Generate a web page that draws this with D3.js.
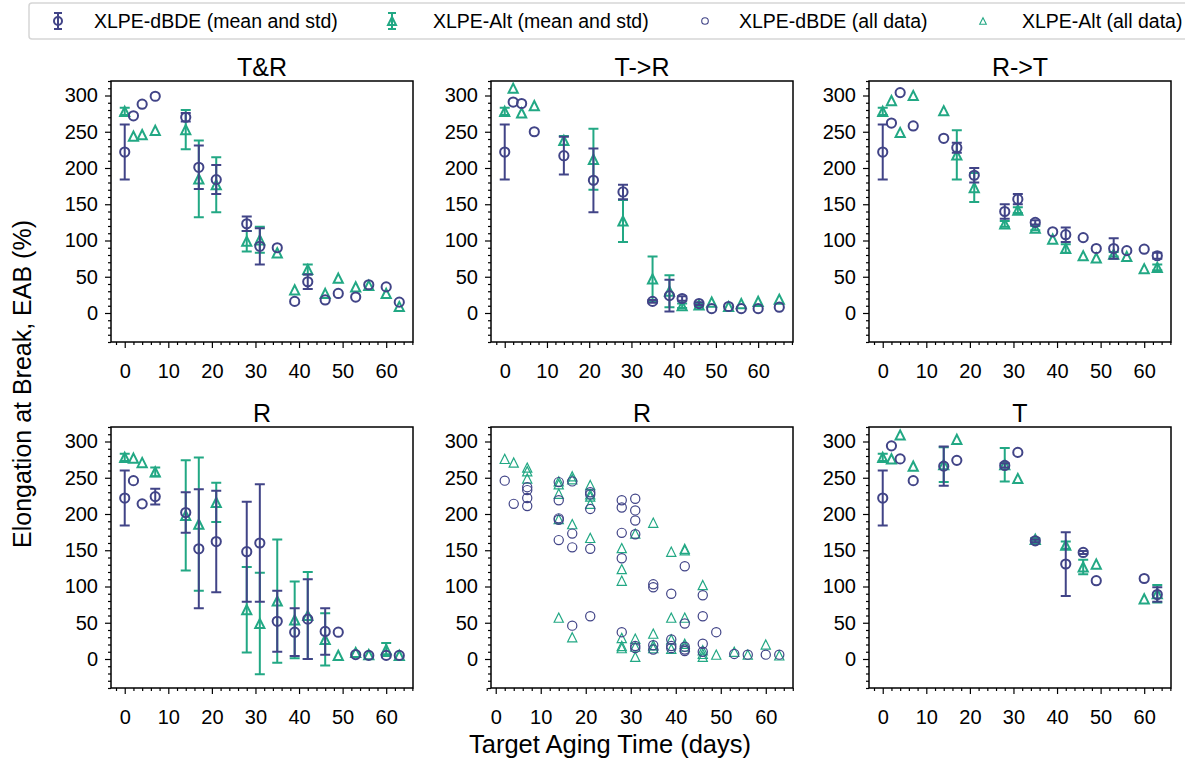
<!DOCTYPE html>
<html>
<head>
<meta charset="utf-8">
<script src="https://cdn.jsdelivr.net/npm/d3@7"></script>
<style>
body { margin: 0; background: #fff; }
svg { font-family: "Liberation Sans", Arial, sans-serif; }
</style>
</head>
<body>
<div id="chart"></div>
<script>
// ---- data ----
var panelTitles = ["T&R", "T->R", "R->T", "R", "R", "T"];
var xTicks = [0, 10, 20, 30, 40, 50, 60];
var yTicks = [0, 50, 100, 150, 200, 250, 300];

// T&R
var trDays = [0, 2, 4, 7, 14, 17, 21, 28, 31, 35, 39, 42, 46, 49, 53, 56, 60, 63];
var trDbde = [222, 272, 288, 299, 270, 201, 184, 123, 92, 90, 16, 43, 18, 27, 22, 39, 36, 15];
var trDbdeStd = [38, null, null, null, 6, 30, 20, 10, 25, null, null, 10, null, null, null, null, null, null];
var trAlt = [278, 244, 246, 252, 253, 185, 177, 99, 101, 83, 32, 60, 27, 48, 36, 38, 27, 9];
var trAltStd = [5, null, null, null, 27, 53, 38, 14, 18, null, null, 7, null, null, null, null, null, null];

// T->R
var t2rDays = [0, 2, 4, 7, 14, 21, 28, 35, 39, 42, 46, 49, 53, 56, 60, 65];
var t2rDbde = [222, 291, 289, 250, 217, 183, 167, 16, 24, 20, 13, 6, 9, 6, 6, 8];
var t2rDbdeStd = [38, null, null, null, 26, 44, 10, 2, 22, 3, 2, null, null, null, null, null];
var t2rAlt = [278, 310, 276, 286, 238, 212, 127, 47, 30, 10, 11, 15, 9, 13, 16, 19];
var t2rAltStd = [5, null, null, null, 6, 42, 29, 31, 22, 3, 2, null, null, null, null, null];

// R->T
var r2tDays = [0, 2, 4, 7, 14, 17, 21, 28, 31, 35, 39, 42, 46, 49, 53, 56, 60, 63];
var r2tDbde = [222, 262, 304, 258, 241, 228, 190, 140, 157, 125, 112, 108, 104, 89, 89, 86, 88, 79];
var r2tDbdeStd = [38, null, null, null, null, 7, 10, 10, 7, 3, null, 10, null, null, 14, null, null, 4];
var r2tAlt = [278, 293, 249, 300, 279, 218, 173, 123, 142, 117, 102, 89, 79, 76, 81, 78, 61, 63];
var r2tAltStd = [5, null, null, null, null, 34, 20, 4, 4, 3, null, 6, null, null, 3, null, null, 4];

// R (mean and std)
var rDays = [0, 2, 4, 7, 14, 17, 21, 28, 31, 35, 39, 42, 46, 49, 53, 56, 60, 63];
var rDbde = [222, 246, 214, 224, 202, 152, 162, 148, 160, 52, 37, 55, 38, 37, 6, 5, 5, 5];
var rDbdeStd = [38, null, null, 11, 28, 82, 70, 69, 81, 42, 33, 55, 32, null, null, null, null, null];
var rAlt = [278, 277, 271, 258, 198, 186, 216, 68, 49, 80, 54, 60, 27, 5, 9, 6, 13, 5];
var rAltStd = [5, null, null, 6, 76, 92, 27, 59, 70, 85, 53, 60, 36, null, null, null, 9, null];

// R (all data)
var rAllDbdeDays = [2, 4, 7, 7, 7, 7, 14, 14, 14, 14, 14, 17, 17, 17, 17, 21, 21, 21, 21, 21, 28, 28, 28, 28, 28,
  31, 31, 31, 31, 31, 31, 35, 35, 35, 35, 39, 39, 39, 39, 42, 42, 42, 42, 42, 46, 46, 46, 46, 49, 53, 56, 60, 63];
var rAllDbdeVals = [246, 214, 237, 233, 222, 211, 244, 219, 194, 192, 164, 245, 173, 154, 46, 230, 227, 207, 152, 59,
  219, 209, 174, 139, 37, 221, 205, 191, 172, 18, 15, 103, 99, 19, 13, 90, 27, 18, 15, 128, 49, 17, 13, 11,
  88, 59, 21, 10, 37, 7, 6, 6, 6];
var rAllAltDays = [2, 4, 7, 7, 7, 14, 14, 14, 14, 14, 17, 17, 17, 17, 21, 21, 21, 21, 21, 28, 28, 28, 28, 28, 28,
  31, 31, 31, 31, 35, 35, 35, 35, 39, 39, 39, 39, 42, 42, 42, 42, 42, 46, 46, 46, 46, 49, 53, 56, 60, 63];
var rAllAltVals = [276, 271, 264, 259, 249, 245, 241, 228, 193, 57, 252, 248, 186, 30, 240, 227, 224, 214, 167,
  153, 124, 108, 29, 18, 15, 173, 28, 17, 3, 188, 35, 19, 15, 148, 57, 27, 14, 152, 150, 57, 21, 17,
  102, 12, 7, 3, 6, 10, 6, 20, 5];

// T
var tDays = [0, 2, 4, 7, 14, 17, 28, 31, 35, 42, 46, 49, 60, 63];
var tDbde = [222, 294, 276, 246, 266, 274, 267, 285, 163, 131, 147, 108, 111, 89];
var tDbdeStd = [38, null, null, null, 27, null, 3, null, 2, 44, 2, null, null, 10];
var tAlt = [278, 276, 309, 266, 268, 303, 268, 249, 165, 157, 127, 131, 83, 90];
var tAltStd = [5, null, null, null, 24, null, 23, null, 2, 5, 10, null, null, 12];

var legendLabels = ["XLPE-dBDE (mean and std)", "XLPE-Alt (mean and std)", "XLPE-dBDE (all data)", "XLPE-Alt (all data)"];

// ---- layout ----
var width = 1185, height = 759;
var dbdeColor = "#414487", altColor = "#22a884";
var cols = [111, 491, 869], rows = [81, 427];
var pw = 302, ph = 261;

var svg = d3.select("#chart")
  .append("svg")
    .attr("width", width)
    .attr("height", height);

function zip(days, vals, stds) {
  return days.map(function(d, i) { return {x: d, y: vals[i], s: stds ? stds[i] : null}; });
}

var panels = [
  {col: 0, row: 0, xdom: [-3.15, 66.15], dbde: zip(trDays, trDbde, trDbdeStd), alt: zip(trDays, trAlt, trAltStd)},
  {col: 1, row: 0, xdom: [-3.25, 68.25], dbde: zip(t2rDays, t2rDbde, t2rDbdeStd), alt: zip(t2rDays, t2rAlt, t2rAltStd)},
  {col: 2, row: 0, xdom: [-3.15, 66.15], dbde: zip(r2tDays, r2tDbde, r2tDbdeStd), alt: zip(r2tDays, r2tAlt, r2tAltStd)},
  {col: 0, row: 1, xdom: [-3.15, 66.15], dbde: zip(rDays, rDbde, rDbdeStd), alt: zip(rDays, rAlt, rAltStd)},
  {col: 1, row: 1, xdom: [-1.05, 66.05], all: true, dbde: zip(rAllDbdeDays, rAllDbdeVals), alt: zip(rAllAltDays, rAllAltVals)},
  {col: 2, row: 1, xdom: [-3.15, 66.15], dbde: zip(tDays, tDbde, tDbdeStd), alt: zip(tDays, tAlt, tAltStd)}
];

function triPath(s) {
  return "M0," + (-s) + "L" + s + "," + s + "L" + (-s) + "," + s + "Z";
}

panels.forEach(function(p, i) {
  var g = svg.append("g")
    .attr("transform", "translate(" + cols[p.col] + "," + rows[p.row] + ")");

  var x = d3.scaleLinear().domain(p.xdom).range([0, pw]);
  var y = d3.scaleLinear().domain([-40, 320]).range([ph, 0]);

  // minor ticks
  var xMinor = d3.range(-2, p.xdom[1], 2).filter(function(v) { return v % 10 != 0; });
  var yMinor = d3.range(-40, 321, 10).filter(function(v) { return v % 50 != 0; });

  g.append("g")
    .attr("class", "axis")
    .attr("transform", "translate(0," + ph + ")")
    .call(d3.axisBottom(x).tickValues(xMinor).tickSize(3).tickFormat(""));
  g.append("g")
    .attr("class", "axis")
    .attr("transform", "translate(0," + ph + ")")
    .call(d3.axisBottom(x).tickValues(xTicks).tickSize(6).tickPadding(16))
    .selectAll("text")
      .style("font-size", "20px");
  g.append("g")
    .attr("class", "axis")
    .call(d3.axisLeft(y).tickValues(yMinor).tickSize(3).tickFormat(""));
  g.append("g")
    .attr("class", "axis")
    .call(d3.axisLeft(y).tickValues(yTicks).tickSize(6).tickPadding(7))
    .selectAll("text")
      .style("font-size", "20px");

  g.selectAll(".axis .domain").remove();
  g.selectAll(".axis line").attr("stroke", "#000").attr("stroke-width", 1.2);
  g.selectAll(".axis text").attr("fill", "#000").attr("font-family", "Liberation Sans, Arial, sans-serif");

  g.append("rect")
    .attr("width", pw)
    .attr("height", ph)
    .attr("fill", "none")
    .attr("stroke", "#000")
    .attr("stroke-width", 1.5);

  g.append("text")
    .attr("x", pw / 2)
    .attr("y", -5)
    .attr("text-anchor", "middle")
    .style("font-size", "25px")
    .text(panelTitles[i]);

  var lw = p.all ? 1.2 : 2;

  [{data: p.alt, color: altColor, tri: true}, {data: p.dbde, color: dbdeColor, tri: false}].forEach(function(s) {
    var withStd = s.data.filter(function(d) { return d.s != null; });
    // error bars
    g.selectAll(null)
      .data(withStd)
      .enter()
      .append("path")
        .attr("d", function(d) {
          var cx = x(d.x), y0 = y(d.y - d.s), y1 = y(d.y + d.s);
          return "M" + cx + "," + y0 + "V" + y1 +
            "M" + (cx - 5) + "," + y0 + "H" + (cx + 5) +
            "M" + (cx - 5) + "," + y1 + "H" + (cx + 5);
        })
        .attr("fill", "none")
        .attr("stroke", s.color)
        .attr("stroke-width", 2);
    // markers
    if (s.tri) {
      g.selectAll(null)
        .data(s.data)
        .enter()
        .append("path")
          .attr("d", triPath(4.6))
          .attr("transform", function(d) { return "translate(" + x(d.x) + "," + y(d.y) + ")"; })
          .attr("fill", "none")
          .attr("stroke", s.color)
          .attr("stroke-width", lw);
    } else {
      g.selectAll(null)
        .data(s.data)
        .enter()
        .append("circle")
          .attr("cx", function(d) { return x(d.x); })
          .attr("cy", function(d) { return y(d.y); })
          .attr("r", 4.6)
          .attr("fill", "none")
          .attr("stroke", s.color)
          .attr("stroke-width", lw);
    }
  });
});

// axis labels
svg.append("text")
  .attr("x", 610)
  .attr("y", 753)
  .attr("text-anchor", "middle")
  .style("font-size", "25.5px")
  .text("Target Aging Time (days)");

svg.append("text")
  .attr("transform", "translate(31,384)rotate(-90)")
  .attr("text-anchor", "middle")
  .style("font-size", "25px")
  .text("Elongation at Break, EAB (%)");

// legend
var legend = svg.append("g");
legend.append("rect")
  .attr("x", 29).attr("y", 3)
  .attr("width", 1200).attr("height", 36)
  .attr("rx", 3)
  .attr("fill", "#fff")
  .attr("stroke", "#d6d6d6")
  .attr("stroke-width", 1.5);

var legendItems = [
  {mx: 58, tx: 94, color: dbdeColor, tri: false, err: true},
  {mx: 392, tx: 433, color: altColor, tri: true, err: true},
  {mx: 705, tx: 739, color: dbdeColor, tri: false, err: false},
  {mx: 983, tx: 1022, color: altColor, tri: true, err: false}
];

legendItems.forEach(function(it, i) {
  var cy = 21;
  if (it.err) {
    legend.append("path")
      .attr("d", "M" + it.mx + "," + (cy - 8) + "V" + (cy + 8) +
        "M" + (it.mx - 4) + "," + (cy - 8) + "H" + (it.mx + 4) +
        "M" + (it.mx - 4) + "," + (cy + 8) + "H" + (it.mx + 4))
      .attr("stroke", it.color)
      .attr("stroke-width", 2)
      .attr("fill", "none");
  }
  var r = it.err ? 4 : 3.3;
  var w = it.err ? 2 : 1.1;
  if (it.tri) {
    legend.append("path")
      .attr("d", triPath(r))
      .attr("transform", "translate(" + it.mx + "," + cy + ")")
      .attr("fill", "none")
      .attr("stroke", it.color)
      .attr("stroke-width", w);
  } else {
    legend.append("circle")
      .attr("cx", it.mx).attr("cy", cy).attr("r", r)
      .attr("fill", "none")
      .attr("stroke", it.color)
      .attr("stroke-width", w);
  }
  legend.append("text")
    .attr("x", it.tx)
    .attr("y", cy + 7)
    .style("font-size", "19.5px")
    .text(legendLabels[i]);
});
</script>
</body>
</html>
